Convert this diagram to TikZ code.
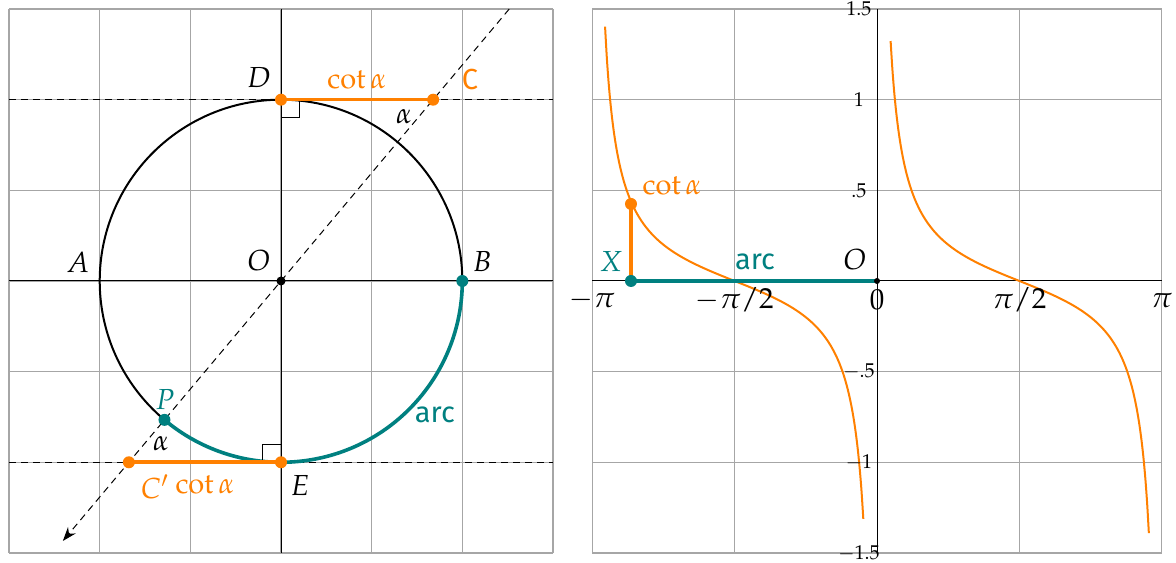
\documentclass[tikz,border=0pt]{standalone}
\usepackage{mathpazo}
\usepackage{fontspec}
\setsansfont{Fira Sans}
\usetikzlibrary{arrows.meta}
\definecolor{myorange}{RGB}{255,128,0}
\definecolor{myteal}{RGB}{0,128,128}
\tikzset{
  gridline/.style={gray!70, line width=0.6pt},
  axisline/.style={black, line width=0.5pt},
  guide/.style={black, line width=0.5pt, dash pattern=on 3.5pt off 2.5pt},
  hot/.style={myorange, line width=1.8pt},
  arcline/.style={myteal, line width=1.8pt},
  curve/.style={myorange, line width=1pt},
  dot/.style={circle, fill=#1, inner sep=0pt, minimum size=6pt},
  lbl/.style={font=\fontsize{14.5}{17}\selectfont, inner sep=0pt},
  ytick/.style={font=\fontsize{10}{12}\selectfont, inner sep=0pt},
  rightangle/.style={black, line width=0.5pt},
}
\begin{document}
\begin{tikzpicture}[x=90.65pt,y=90.65pt]
\useasboundingbox (-1.55,-1.5554) rectangle (4.9366,1.5499);
% ---------------- left panel ----------------
\draw[gridline] (-1.5,-1.5) grid[step=0.5] (1.5,1.5);
\draw[axisline] (-1.5,0) -- (1.5,0);
\draw[axisline] (0,-1.5) -- (0,1.5);
\draw[guide] (-1.5,1) -- (1.5,1);
\draw[guide] (-1.5,-1) -- (1.5,-1);
\coordinate (Ltop) at (50:1.958);
\coordinate (Lbot) at (230:1.872);
\draw[guide, -{Stealth[length=7pt,width=5pt]}] (Ltop) -- (Lbot);
\coordinate (O) at (0,0);
\coordinate (D) at (0,1);
\coordinate (C) at (0.8391,1);
\coordinate (E) at (0,-1);
\coordinate (Cp) at (-0.8391,-1);
\coordinate (P) at (230:1);
\coordinate (B) at (1,0);
\draw[black, line width=1pt] (O) circle (1);
\draw[arcline] (P) arc (230:360:1);
\draw[rightangle] (0,0.9) -- (0.1,0.9) -- (0.1,1);
\draw[rightangle] (-0.1,-1) -- (-0.1,-0.9) -- (0,-0.9);
\draw[hot] (D) -- (C);
\draw[hot] (Cp) -- (E);
\node[dot=myorange] (Ddot) at (D) {};
\node[dot=myorange] (Cdot) at (C) {};
\node[dot=myorange] (Edot) at (E) {};
\node[dot=myorange] (Cpdot) at (Cp) {};
\node[dot=myteal] (Pdot) at (P) {};
\node[dot=myteal] (Bdot) at (B) {};
\node[dot=black, minimum size=4.5pt] (Odot) at (O) {};
\node[lbl] (Dl) at (-0.121,1.12) {$D$};
\node[lbl, text=myorange] (cot1) at (0.419,1.109) {$\cot\alpha$};
\node[lbl, text=myorange] (Cl) at (1.042,1.109) {\textsf{C}};
\node[lbl] (a1) at (0.678,0.905) {$\alpha$};
\node[lbl] (Al) at (-1.12,0.105) {$A$};
\node[lbl] (Ol) at (-0.121,0.11) {$O$};
\node[lbl] (Bl) at (1.109,0.11) {$B$};
\node[lbl, text=myteal] (Pl) at (-0.640,-0.656) {$P$};
\node[lbl] (a2) at (-0.662,-0.899) {$\alpha$};
\node[lbl, text=myorange] (Cpl) at (-0.695,-1.136) {$C'$};
\node[lbl, text=myorange] (cot2) at (-0.419,-1.125) {$\cot\alpha$};
\node[lbl] (El) at (0.105,-1.131) {$E$};
\node[lbl, text=myteal] (arc1) at (0.849,-0.739) {\textsf{arc}};
% ---------------- right panel ----------------
\begin{scope}[shift={(3.2874,0)}, x=45.325pt]
  \foreach \t in {-3.14159,-1.5708,1.5708,3.14159}
    \draw[gridline] (\t,-1.5) -- (\t,1.5);
  \foreach \y in {-1.5,-1,-0.5,0.5,1,1.5}
    \draw[gridline] (-3.14159,\y) -- (3.14159,\y);
  \draw[axisline] (-3.14159,0) -- (3.14159,0);
  \draw[axisline] (0,-1.5) -- (0,1.5);
  \draw[curve, domain=-3.0:-0.15, samples=150, smooth, variable=\t]
    plot (\t,{cot(deg(\t))/5});
  \draw[curve, domain=0.15:3.0, samples=150, smooth, variable=\t]
    plot (\t,{cot(deg(\t))/5});
  \coordinate (X) at (-2.714,0);
  \coordinate (Xc) at (-2.714,0.425);
  \coordinate (O2) at (0,0);
  \draw[arcline] (X) -- (O2);
  \draw[hot] (X) -- (Xc);
  \node[dot=myorange] (Xcdot) at (Xc) {};
  \node[dot=myteal] (Xdot) at (X) {};
  \node[dot=black, minimum size=3pt] (O2dot) at (O2) {};
  \node[lbl, text=myorange] (cot3) at (-2.26,0.524) {$\cot\alpha$};
  \node[lbl, text=myteal] (Xl) at (-2.934,0.110) {$X$};
  \node[lbl, text=myteal] (arc2) at (-1.346,0.105) {\textsf{arc}};
  \node[lbl] (O2l) at (-0.242,0.116) {$O$};
  \node[lbl] (tm1) at (-3.14159,-0.105) {$-\pi$};
  \node[lbl] (tm2) at (-1.5708,-0.105) {$-\pi/2$};
  \node[lbl] (t0) at (0,-0.105) {$0$};
  \node[lbl] (tp2) at (1.5708,-0.105) {$\pi/2$};
  \node[lbl] (tp1) at (3.14159,-0.105) {$\pi$};
  \node[ytick] (y1) at (-0.2,1.5) {$1.5$};
  \node[ytick] (y2) at (-0.2,1) {$1$};
  \node[ytick] (y3) at (-0.2,0.5) {$.5$};
  \node[ytick] (y4) at (-0.2,-0.5) {$-.5$};
  \node[ytick] (y5) at (-0.2,-1) {$-1$};
  \node[ytick] (y6) at (-0.2,-1.5) {$-1.5$};
\end{scope}
\end{tikzpicture}
\end{document}
